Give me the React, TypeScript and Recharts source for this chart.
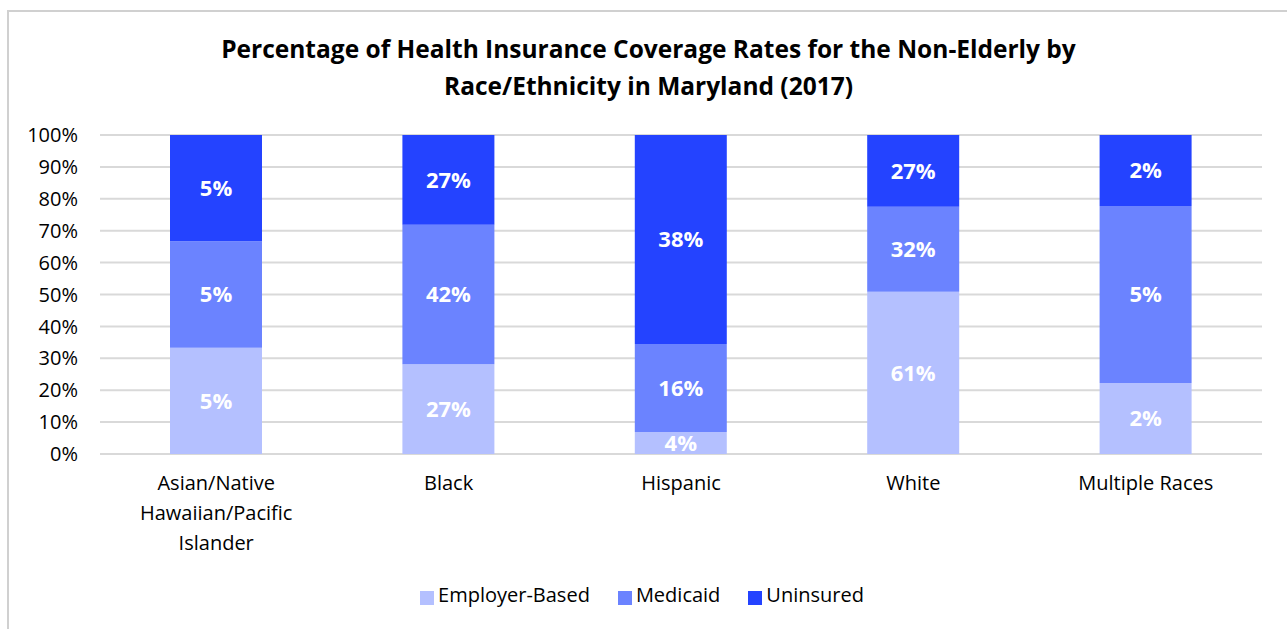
import React from 'react';
import { Bar, BarChart, CartesianGrid, LabelList, Legend, XAxis, YAxis } from 'recharts';

const categories = ['Asian/Native Hawaiian/Pacific Islander', 'Black', 'Hispanic', 'White', 'Multiple Races'];
const employerBased = [5, 27, 4, 61, 2];
const medicaid = [5, 42, 16, 32, 5];
const uninsured = [5, 27, 38, 27, 2];
const yTicks = [0, 0.1, 0.2, 0.3, 0.4, 0.5, 0.6, 0.7, 0.8, 0.9, 1];

const tickLines: Record<string, string[]> = {
  'Asian/Native Hawaiian/Pacific Islander': ['Asian/Native', 'Hawaiian/Pacific', 'Islander'],
};

const data = categories.map((name, i) => ({
  name,
  employer: employerBased[i],
  medicaid: medicaid[i],
  uninsured: uninsured[i],
}));

const FONT = '"Open Sans", "Noto Sans", sans-serif';

function CategoryTick(props: any) {
  const { x, y, payload } = props;
  const lines = tickLines[payload.value] || [payload.value];
  return (
    <g transform={`translate(${x},${y})`}>
      {lines.map((line, i) => (
        <text
          key={i}
          x={0}
          y={i * 30}
          dy={16}
          textAnchor="middle"
          fill="#000"
          fontSize={20}
          fontFamily={FONT}
        >
          {line}
        </text>
      ))}
    </g>
  );
}

const labelProps = {
  position: 'center' as const,
  fill: '#fff',
  fontSize: 22,
  fontWeight: 700,
  fontFamily: FONT,
  formatter: (v: number) => `${v}%`,
};

export default function App() {
  return (
    <div style={{ position: 'fixed', top: 0, left: 0, width: 1287, height: 629, background: '#fff', overflow: 'hidden' }}>
      <div
        style={{
          position: 'absolute',
          left: 7,
          top: 10,
          width: 1400,
          height: 700,
          border: '2px solid #d0d0d0',
          boxSizing: 'border-box',
        }}
      />
      <div
        style={{
          position: 'absolute',
          left: 0,
          width: 1297,
          top: 30,
          textAlign: 'center',
          fontFamily: FONT,
          fontWeight: 700,
          fontSize: 24.5,
          lineHeight: '37px',
          color: '#000',
        }}
      >
        Percentage of Health Insurance Coverage Rates for the Non-Elderly by
        <br />
        Race/Ethnicity in Maryland (2017)
      </div>
      <div style={{ position: 'absolute', left: 0, top: 0 }}>
        <BarChart
          width={1287}
          height={629}
          data={data}
          stackOffset="expand"
          margin={{ top: 135, right: 25, bottom: 118, left: 0 }}
          barSize={92}
        >
          <CartesianGrid vertical={false} stroke="#d9d9d9" strokeWidth={2} />
          <XAxis
            dataKey="name"
            axisLine={false}
            tickLine={false}
            interval={0}
            tick={<CategoryTick />}
            tickMargin={14}
          />
          <YAxis
            width={100}
            domain={[0, 1]}
            ticks={yTicks}
            axisLine={false}
            tickLine={false}
            tickSize={0}
            tickMargin={22}
            tickFormatter={(v: number) => `${Math.round(v * 100)}%`}
            tick={{ fill: '#000', fontSize: 20, fontFamily: FONT }}
          />
          <Legend
            verticalAlign="bottom"
            align="center"
            iconType="square"
            iconSize={14}
            wrapperStyle={{ bottom: 21, paddingLeft: 25 }}
            formatter={(value: string) => (
              <span style={{ color: '#000', fontSize: 20, fontFamily: FONT, marginRight: 18 }}>{value}</span>
            )}
          />
          <Bar dataKey="employer" name="Employer-Based" stackId="a" fill="#b4c0ff" isAnimationActive={false}>
            <LabelList dataKey="employer" {...labelProps} />
          </Bar>
          <Bar dataKey="medicaid" name="Medicaid" stackId="a" fill="#6b83ff" isAnimationActive={false}>
            <LabelList dataKey="medicaid" {...labelProps} />
          </Bar>
          <Bar dataKey="uninsured" name="Uninsured" stackId="a" fill="#2443ff" isAnimationActive={false}>
            <LabelList dataKey="uninsured" {...labelProps} />
          </Bar>
        </BarChart>
      </div>
    </div>
  );
}
